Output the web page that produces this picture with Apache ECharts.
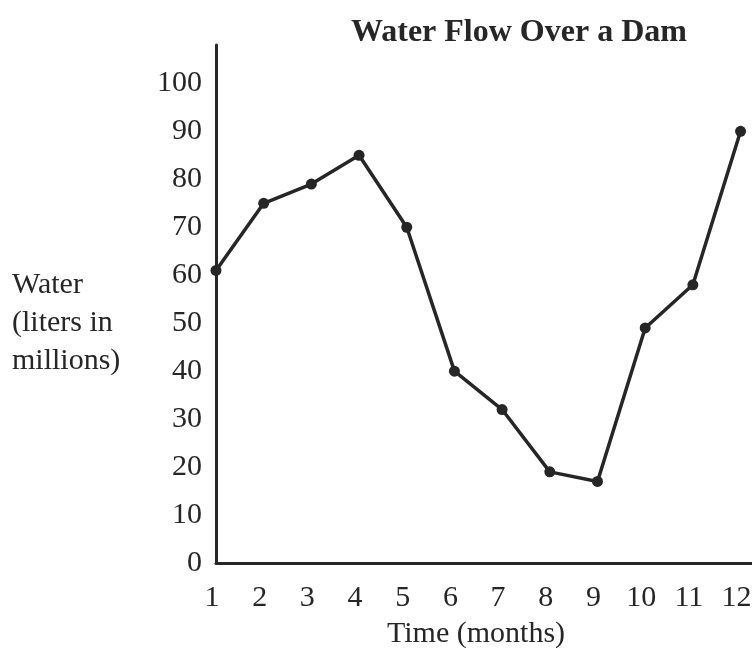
<!DOCTYPE html>
<html>
<head>
    <title>Water Flow Over a Dam</title>
    <script src="https://cdn.jsdelivr.net/npm/echarts@6.0.0/dist/echarts.min.js"></script>
    <style>
        body { margin: 0; background: #fff; }
    </style>
</head>
<body>
<div id="chart" style="width: 752px; height: 654px;"></div>
<script>
    // values
    var months = [1, 2, 3, 4, 5, 6, 7, 8, 9, 10, 11, 12];
    var water = [61, 75, 79, 85, 70, 40, 32, 19, 17, 49, 58, 90];
    var yTicks = [0, 10, 20, 30, 40, 50, 60, 70, 80, 90, 100];
    var yNameLines = ['Water', '(liters in', 'millions)'];

    var ink = '#262626';
    var serif = 'Liberation Serif';

    var points = months.map(function (m, i) { return [m, water[i]]; });

    var chart = echarts.init(document.getElementById('chart'));

    var option = {
        backgroundColor: '#fff',
        animation: false,
        title: {
            text: 'Water Flow Over a Dam',
            left: 346,
            top: 2,
            textStyle: { fontFamily: serif, fontSize: 32, fontWeight: 'bold', color: ink }
        },
        grid: { left: 216, top: 45, right: 0, bottom: 91, outerBoundsMode: 'none' },
        xAxis: {
            type: 'value',
            min: 1,
            max: 12.24,
            interval: 1,
            name: 'Time (months)',
            nameLocation: 'middle',
            nameGap: 48,
            nameMoveOverlap: false,
            nameTextStyle: { fontFamily: serif, fontSize: 30, color: ink, padding: [0, 16, 0, 0] },
            axisLine: { lineStyle: { color: ink, width: 3 } },
            axisTick: { show: false },
            splitLine: { show: false },
            axisLabel: {
                margin: 12,
                padding: [0, 8, 0, 0],
                showMaxLabel: false,
                fontFamily: serif, fontSize: 30, color: ink
            }
        },
        yAxis: {
            type: 'value',
            min: yTicks[0],
            max: 108,
            interval: 10,
            axisLine: { show: true, lineStyle: { color: ink, width: 3 } },
            axisTick: { show: false },
            splitLine: { show: false },
            axisLabel: {
                margin: 14,
                showMaxLabel: false,
                fontFamily: serif, fontSize: 30, color: ink,
                formatter: function (v) { return yTicks.indexOf(v) >= 0 ? String(v) : ''; }
            }
        },
        graphic: [{
            type: 'text',
            left: 12,
            top: 262,
            style: {
                text: yNameLines.join('\n'),
                font: '30px "Liberation Serif"',
                lineHeight: 38,
                fill: ink,
                align: 'left'
            }
        }],
        series: [{
            type: 'line',
            data: points,
            symbol: 'circle',
            symbolSize: 11,
            lineStyle: { color: ink, width: 3.5 },
            itemStyle: { color: ink },
            z: 3
        }]
    };

    chart.setOption(option);
</script>
</body>
</html>
